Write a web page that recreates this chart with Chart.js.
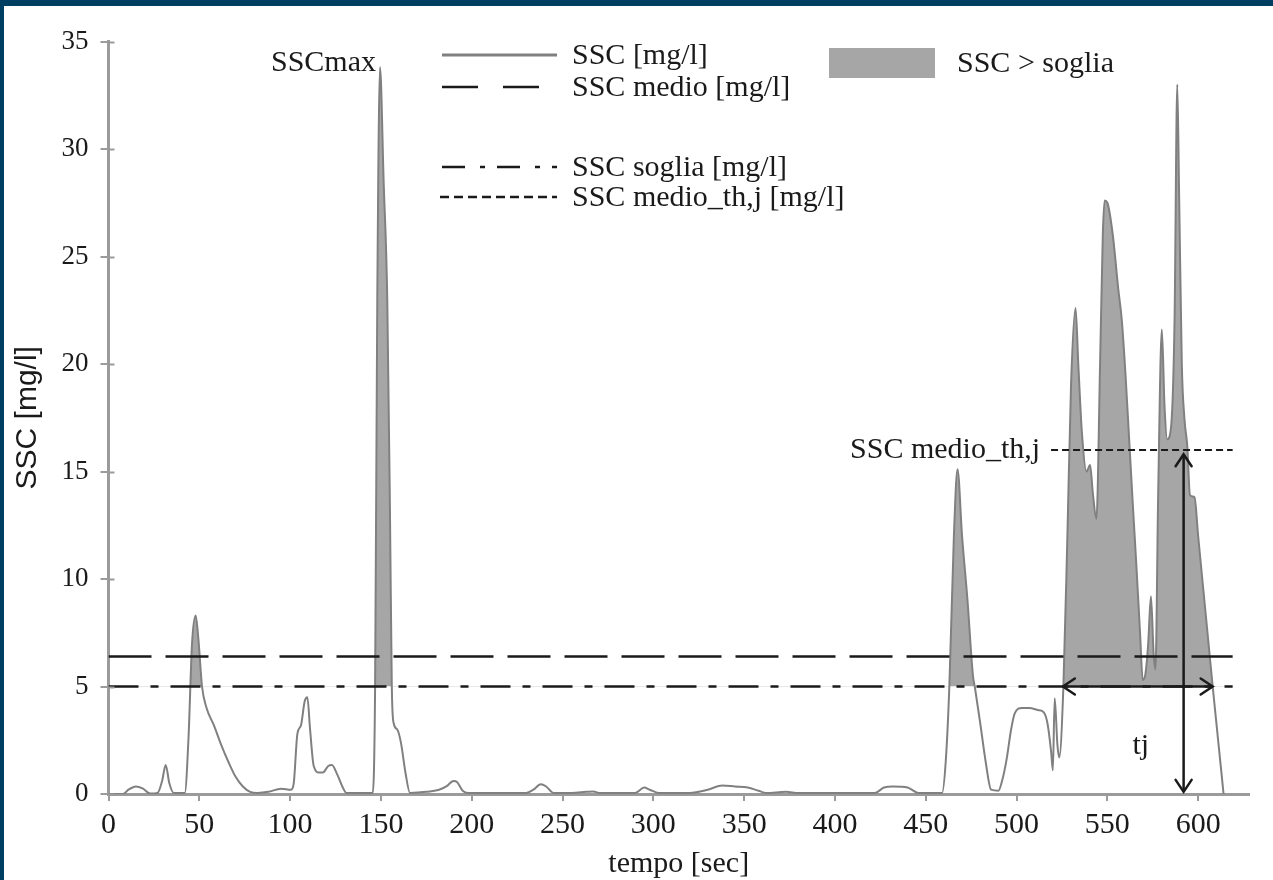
<!DOCTYPE html>
<html>
<head>
<meta charset="utf-8">
<script src="https://cdn.jsdelivr.net/npm/chart.js@4.4.0/dist/chart.umd.min.js"></script>
<style>
  html, body { margin: 0; padding: 0; }
  body { width: 1273px; height: 880px; overflow: hidden; position: relative;
         background: linear-gradient(100deg, #003e62 0%, #003e62 95%, #3f7090 100%); }
  #wrap { position: absolute; left: 4px; top: 6px; width: 1269px; height: 874px; background: #fff; }
  canvas { display: block; }
</style>
</head>
<body>
<div id="wrap"><canvas id="chart" width="1269" height="874"></canvas></div>
<script>
// tempo [sec] and SSC [mg/l]
const tempo = [0, 8, 11, 15, 19, 23, 27, 29.5, 31.5, 33.5, 36, 42, 44, 46, 48, 49.5, 51.5, 54, 58, 62,
  66, 70, 74, 78, 82, 88, 95, 100.5, 102, 104, 106, 108, 109.5, 111, 113, 116, 118, 121, 123, 126,
  129, 131, 140, 145.5, 146.8, 148, 149.5, 151.5, 153.5, 155, 156, 157, 159, 161, 163.5, 166, 175, 182, 186, 190,
  192, 195, 198, 210, 230, 234, 238, 241, 245, 255, 263, 267, 270, 290, 295, 298, 303, 320, 330, 338,
  345, 352, 358, 362, 373, 380, 410, 422, 427, 432, 440, 446, 455, 459, 461, 463, 465.5, 467.5, 470, 473,
  476, 477, 480, 483, 486, 490, 492, 494.5, 497, 499, 503, 507, 512, 515, 517, 519, 520, 521, 522.5, 523.5,
  525.8, 528, 530, 532.5, 534, 536, 538.5, 540.5, 542, 544, 546, 547.5, 548.5, 550, 553, 556, 558, 560, 562, 564,
  566, 568, 569.5, 571, 572.5, 574, 575.5, 576.5, 578, 580, 581.5, 583, 585, 587, 588.5, 589.5, 591, 592.5, 594, 595.5,
  598, 600, 604, 608, 611, 614];
const ssc = [0, 0, 0.2, 0.35, 0.25, 0.02, 0.05, 0.6, 1.35, 0.5, 0.05, 0.05, 2.5, 7.0, 8.3, 7.2, 5.0, 4.0, 3.2, 2.3,
  1.5, 0.8, 0.35, 0.1, 0.05, 0.1, 0.25, 0.2, 0.5, 2.8, 3.2, 4.3, 4.5, 3.0, 1.3, 1.0, 1.0, 1.3, 1.35, 0.9,
  0.3, 0.05, 0.05, 0.05, 5.0, 23, 33.8, 28.5, 23, 13, 5.0, 3.3, 3.0, 2.4, 1.0, 0.05, 0.1, 0.2, 0.35, 0.6,
  0.55, 0.15, 0.05, 0.05, 0.05, 0.2, 0.45, 0.35, 0.05, 0.05, 0.1, 0.12, 0.05, 0.05, 0.3, 0.2, 0.05, 0.05, 0.2, 0.4,
  0.35, 0.3, 0.15, 0.05, 0.1, 0.05, 0.05, 0.05, 0.3, 0.35, 0.3, 0.05, 0.05, 0.05, 1.5, 5.0, 12, 15.1, 12, 9,
  5.5, 5.0, 3.3, 1.5, 0.2, 0.15, 0.6, 1.6, 3.0, 3.75, 4.0, 4.0, 3.9, 3.8, 3.3, 2.0, 1.1, 4.45, 2.3, 1.7,
  5.0, 12, 19, 22.6, 20, 16.8, 15, 15.3, 14.0, 12.8, 20, 26, 27.6, 27.5, 26, 23.5, 22, 19.5, 16.5, 13.5,
  10.6, 7.5, 5.3, 5.6, 7, 9.2, 6.5, 5.8, 14, 21.6, 18, 16.5, 17, 22, 33.0, 28, 20, 17.4, 16.2, 13.9,
  13.8, 12, 8.5, 5.0, 2.5, 0];

const sscMedio = 6.4;
const sscSoglia = 5;
const sscMedioTh = 16;
const refSpan = [0, 619];
const thSpan = [519, 619];
const tjSpan = [525.5, 608];
const tjAt = 592;

const xTicks = [0, 50, 100, 150, 200, 250, 300, 350, 400, 450, 500, 550, 600];
const yTicks = [0, 5, 10, 15, 20, 25, 30, 35];

const legendLabels = ['SSC [mg/l]', 'SSC medio [mg/l]', 'SSC soglia [mg/l]', 'SSC medio_th,j [mg/l]', 'SSC > soglia'];

const serif = '"Liberation Serif", "Times New Roman", serif';
const lineGrey = 'rgb(128,128,128)';
const fillGrey = 'rgb(166,166,166)';
const axisGrey = 'rgb(155,155,155)';
const ink = '#1a1a1a';

const hline = (y, span) => span.map(x => ({ x: x, y: y }));

function arrowHead(ctx, x, y, dx, dy) {
  // open chevron, tip at (x,y), pointing along (dx,dy)
  const len = 12, half = 8;
  const bx = x - dx * len, by = y - dy * len;
  ctx.beginPath();
  ctx.moveTo(bx - dy * half, by + dx * half);
  ctx.lineTo(x, y);
  ctx.lineTo(bx + dy * half, by - dx * half);
  ctx.stroke();
}

const annotations = {
  id: 'annotations',
  afterDatasetsDraw(chart) {
    const { ctx, scales: { x, y } } = chart;
    ctx.save();
    ctx.strokeStyle = ink;
    ctx.lineWidth = 2.5;
    ctx.lineCap = 'round';
    // tj arrow
    const yS = y.getPixelForValue(sscSoglia);
    arrowHead(ctx, x.getPixelForValue(tjSpan[0]), yS, -1, 0);
    arrowHead(ctx, x.getPixelForValue(tjSpan[1]), yS, 1, 0);
    // vertical arrow
    const xa = x.getPixelForValue(tjAt);
    arrowHead(ctx, xa, y.getPixelForValue(15.8), 0, -1);
    arrowHead(ctx, xa, y.getPixelForValue(0.1), 0, 1);

    ctx.fillStyle = ink;
    ctx.font = '30px ' + serif;
    ctx.textBaseline = 'middle';
    // SSCmax next to the peak
    let iMax = 0;
    ssc.forEach((v, i) => { if (v > ssc[iMax]) iMax = i; });
    ctx.textAlign = 'right';
    ctx.fillText('SSCmax', x.getPixelForValue(tempo[iMax]) - 4, y.getPixelForValue(ssc[iMax]) - 4);
    ctx.fillText('SSC medio_th,j', x.getPixelForValue(thSpan[0]) - 11, y.getPixelForValue(sscMedioTh));
    ctx.textAlign = 'center';
    ctx.fillText('tj', (x.getPixelForValue(tjSpan[0]) + x.getPixelForValue(tjSpan[1])) / 2 + 3, yS + 60);
    ctx.restore();
  },
  afterDraw(chart) {
    // inner half of the y ticks (they cross the axis)
    const { ctx, scales: { y } } = chart;
    ctx.save();
    ctx.strokeStyle = axisGrey;
    ctx.lineWidth = 2;
    y.ticks.forEach(t => {
      const py = Math.round(y.getPixelForValue(t.value)) + 0.5;
      ctx.beginPath();
      ctx.moveTo(y.right, py);
      ctx.lineTo(y.right + 6, py);
      ctx.stroke();
    });
    ctx.restore();
  }
};

const customLegend = {
  id: 'customLegend',
  afterDraw(chart) {
    const { ctx } = chart;
    const ds = chart.data.datasets;
    const rows = [
      { d: ds[0], x0: 438, x1: 553, y: 49, dash: [] },
      { d: ds[1], x0: 438, x1: 541, y: 81, dash: [36, 25] },
      { d: ds[2], x0: 438, x1: 553, y: 161, dash: [23, 15, 5, 12] },
      { d: ds[3], x0: 436, x1: 553, y: 191, dash: [9, 5] }
    ];
    ctx.save();
    ctx.font = '30px ' + serif;
    ctx.textBaseline = 'middle';
    ctx.textAlign = 'left';
    rows.forEach((r, i) => {
      ctx.strokeStyle = r.d.borderColor;
      ctx.lineWidth = i === 0 ? 3 : 2.5;
      ctx.setLineDash(r.dash);
      ctx.beginPath();
      ctx.moveTo(r.x0, r.y);
      ctx.lineTo(r.x1, r.y);
      ctx.stroke();
      ctx.fillStyle = ink;
      ctx.fillText(legendLabels[i], 568, r.y + 1);
    });
    ctx.fillStyle = fillGrey;
    ctx.fillRect(825, 42, 106, 30);
    ctx.fillStyle = ink;
    ctx.fillText(legendLabels[4], 953, 58);
    ctx.restore();
  }
};

new Chart(document.getElementById('chart'), {
  type: 'line',
  data: {
    datasets: [
      {
        label: legendLabels[0],
        data: tempo.map((t, i) => ({ x: t, y: ssc[i] })),
        borderColor: lineGrey,
        borderWidth: 2,
        pointRadius: 0,
        cubicInterpolationMode: 'monotone',
        fill: { target: { value: sscSoglia }, above: fillGrey, below: 'rgba(0,0,0,0)' },
        order: 5
      },
      {
        label: legendLabels[1],
        data: hline(sscMedio, refSpan),
        borderColor: ink,
        borderWidth: 2.5,
        borderDash: [43, 14],
        pointRadius: 0,
        order: 1
      },
      {
        label: legendLabels[2],
        data: hline(sscSoglia, refSpan),
        borderColor: ink,
        borderWidth: 2.5,
        borderDash: [30, 12, 8, 12],
        pointRadius: 0,
        order: 1
      },
      {
        label: legendLabels[3],
        data: hline(sscMedioTh, thSpan),
        borderColor: ink,
        borderWidth: 2,
        borderDash: [7, 4],
        pointRadius: 0,
        order: 1
      },
      {
        label: 'tj',
        data: hline(sscSoglia, tjSpan),
        borderColor: ink,
        borderWidth: 2.5,
        pointRadius: 0,
        order: 0
      },
      {
        label: 'tj vert',
        data: [{ x: tjAt, y: 0.1 }, { x: tjAt, y: 15.8 }],
        borderColor: ink,
        borderWidth: 2.5,
        pointRadius: 0,
        order: 0
      }
    ]
  },
  options: {
    responsive: false,
    animation: false,
    devicePixelRatio: 1,
    layout: { padding: { top: 35.5, right: 24, bottom: 0, left: 0 } },
    plugins: {
      legend: { display: false },
      tooltip: { enabled: false }
    },
    scales: {
      x: {
        type: 'linear',
        min: 0,
        max: 628,
        afterFit: s => { s.height = 86; },
        afterBuildTicks: s => { s.ticks = xTicks.map(v => ({ value: v })); },
        border: { display: true, color: axisGrey, width: 3 },
        grid: { display: true, drawOnChartArea: false, drawTicks: true, tickLength: 7, color: axisGrey, lineWidth: 2 },
        ticks: { color: ink, padding: 6, maxRotation: 0, autoSkip: false, font: { family: serif, size: 30 } },
        title: {
          display: true,
          text: 'tempo [sec]',
          color: ink,
          padding: { top: 0, bottom: 1 },
          font: { family: serif, size: 30, lineHeight: 1.0 }
        }
      },
      y: {
        min: 0,
        max: 35,
        afterFit: s => { s.width = 104.5; },
        afterBuildTicks: s => { s.ticks = yTicks.map(v => ({ value: v })); },
        border: { display: true, color: axisGrey, width: 3 },
        grid: { display: true, drawOnChartArea: false, drawTicks: true, tickLength: 8, color: axisGrey, lineWidth: 2 },
        ticks: { color: ink, padding: 12, autoSkip: false, font: { family: serif, size: 27 } },
        title: {
          display: true,
          text: 'SSC [mg/l]',
          color: ink,
          padding: { top: 6, bottom: 0 },
          font: { family: '"Liberation Sans", Arial, sans-serif', size: 30 }
        }
      }
    }
  },
  plugins: [annotations, customLegend]
});
</script>
</body>
</html>
